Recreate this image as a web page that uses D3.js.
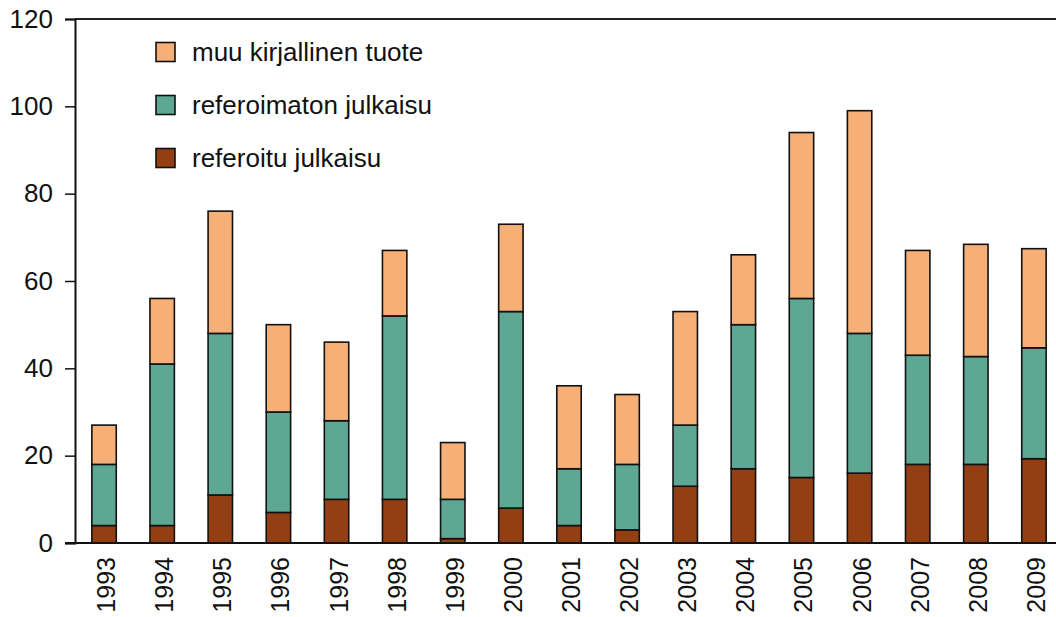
<!DOCTYPE html>
<html>
<head>
<meta charset="utf-8">
<script src="https://cdn.jsdelivr.net/npm/d3@7"></script>
<style>
  body { margin: 0; background: #fff; }
  svg text { font-family: "Liberation Sans", Arial, Helvetica, sans-serif; fill: #111; }
</style>
</head>
<body>
<div id="chart"></div>
<script>
// data
var years = ['1993', '1994', '1995', '1996', '1997', '1998', '1999', '2000', '2001',
  '2002', '2003', '2004', '2005', '2006', '2007', '2008', '2009'];
var referoitu = [4, 4, 11, 7, 10, 10, 1, 8, 4, 3, 13, 17, 15, 16, 18, 18, 19.3];
var referoimaton = [14, 37, 37, 23, 18, 42, 9, 45, 13, 15, 14, 33, 41, 32, 25, 24.7, 25.4];
var muu = [9, 15, 28, 20, 18, 15, 13, 20, 19, 16, 26, 16, 38, 51, 24, 25.7, 22.7];
var seriesNames = ['referoitu julkaisu', 'referoimaton julkaisu', 'muu kirjallinen tuote'];
var colors = ['#933f13', '#5da793', '#f6b077'];
var yTicks = [0, 20, 40, 60, 80, 100, 120];

var W = 1056, H = 617;
var margin = { left: 75, right: 0, top: 19, bottom: 74 };

var _init_ = function () {
  var rows = years.map(function (y, i) {
    return { year: y, s0: referoitu[i], s1: referoimaton[i], s2: muu[i] };
  });

  var svg = d3.select('#chart').append('svg')
    .attr('width', W)
    .attr('height', H);

  var x = d3.scaleBand()
    .domain(years)
    .range([margin.left, 1063])
    .paddingInner(0.58)
    .paddingOuter(0.29);

  var y = d3.scaleLinear()
    .domain([0, 120])
    .range([H - margin.bottom, margin.top]);

  var stack = d3.stack().keys(['s0', 's1', 's2']);
  var layers = stack(rows);

  // bars
  svg.append('g').selectAll('g')
    .data(layers)
    .join('g')
    .attr('fill', function (d, i) { return colors[i]; })
    .selectAll('rect')
    .data(function (d) { return d; })
    .join('rect')
    .attr('x', function (d) { return x(d.data.year); })
    .attr('y', function (d) { return y(d[1]); })
    .attr('width', x.bandwidth())
    .attr('height', function (d) { return y(d[0]) - y(d[1]); })
    .attr('stroke', '#111')
    .attr('stroke-width', 1.6);

  // top frame line
  svg.append('line')
    .attr('x1', margin.left).attr('x2', W)
    .attr('y1', y(120)).attr('y2', y(120))
    .attr('stroke', '#222').attr('stroke-width', 2);

  // y axis
  var yAxis = svg.append('g')
    .attr('transform', 'translate(' + margin.left + ',0)')
    .call(d3.axisLeft(y).tickValues(yTicks).tickSize(10).tickPadding(12));
  yAxis.select('.domain').attr('stroke', '#111').attr('stroke-width', 2);
  yAxis.selectAll('.tick line').attr('stroke', '#111').attr('stroke-width', 1.5);
  yAxis.selectAll('text').style('font-size', '26px').attr('fill', '#111');

  // x axis line
  svg.append('line')
    .attr('x1', 65).attr('x2', W)
    .attr('y1', y(0)).attr('y2', y(0))
    .attr('stroke', '#111').attr('stroke-width', 2);

  // year labels
  svg.append('g').selectAll('text')
    .data(years)
    .join('text')
    .attr('transform', function (d) {
      return 'translate(' + (x(d) + x.bandwidth() / 2 + 2) + ',' + (y(0) + 14) + ') rotate(-90)';
    })
    .attr('text-anchor', 'end')
    .attr('dy', '0.36em')
    .style('font-size', '25px')
    .text(function (d) { return d; });

  // legend (top to bottom: muu, referoimaton, referoitu)
  var legendItems = [2, 1, 0];
  var legend = svg.append('g').selectAll('g')
    .data(legendItems)
    .join('g')
    .attr('transform', function (d, i) { return 'translate(156,' + (52 + i * 53) + ')'; });
  legend.append('rect')
    .attr('x', 0).attr('y', -9.5)
    .attr('width', 19).attr('height', 19)
    .attr('fill', function (d) { return colors[d]; })
    .attr('stroke', '#111').attr('stroke-width', 1.6);
  legend.append('text')
    .attr('x', 36)
    .attr('dy', '0.36em')
    .style('font-size', '26px')
    .text(function (d) { return seriesNames[d]; });
};

_init_();
</script>
</body>
</html>
